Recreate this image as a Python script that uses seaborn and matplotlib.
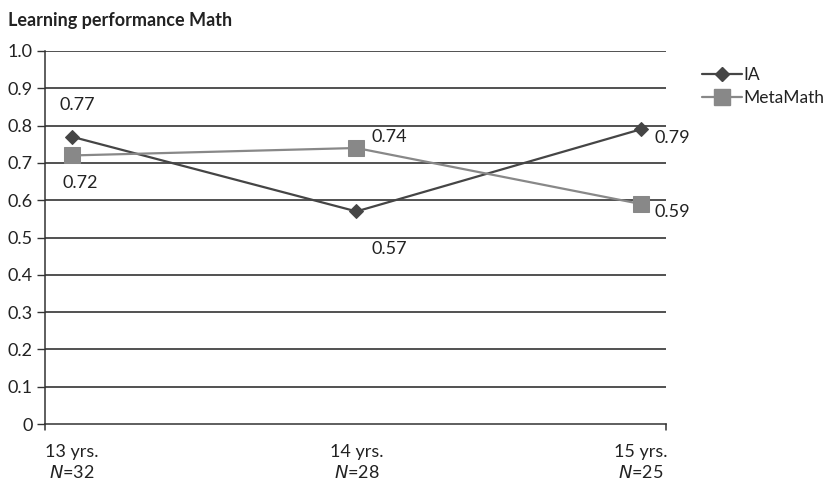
import matplotlib
matplotlib.use("Agg")
import matplotlib.pyplot as plt
import seaborn as sns
import pandas as pd
from matplotlib.lines import Line2D

ages = ["13 yrs.", "14 yrs.", "15 yrs."]
sample_sizes = [32, 28, 25]
ia_values = [0.77, 0.57, 0.79]
metamath_values = [0.72, 0.74, 0.59]
y_ticks = [0, 0.1, 0.2, 0.3, 0.4, 0.5, 0.6, 0.7, 0.8, 0.9, 1.0]
y_tick_labels = ["0", "0.1", "0.2", "0.3", "0.4", "0.5", "0.6", "0.7", "0.8", "0.9", "1.0"]

sns.set_theme(style="white")
plt.rcParams["font.family"] = ["Lato", "DejaVu Sans"]

df = pd.DataFrame({
    "pos": list(range(len(ages))) * 2,
    "value": ia_values + metamath_values,
    "series": ["IA"] * len(ages) + ["MetaMath"] * len(ages),
})

fig = plt.figure(figsize=(8.37, 4.88), dpi=100)
ax = fig.add_axes([0.054, 0.131, 0.742, 0.7645])

ia_color = "#454545"
mm_color = "#888888"
txt_color = "#222222"
fs = 13

sns.lineplot(data=df[df.series == "IA"], x="pos", y="value", ax=ax,
             color=ia_color, lw=1.6, marker="D", markersize=7,
             markeredgecolor=ia_color, legend=False)
sns.lineplot(data=df[df.series == "MetaMath"], x="pos", y="value", ax=ax,
             color=mm_color, lw=1.6, marker="s", markersize=12,
             markeredgecolor=mm_color, legend=False)

ax.set_xlabel("")
ax.set_ylabel("")
ax.set_xlim(-0.095, 2.09)
ax.set_ylim(0, 1.0)
ax.set_yticks(y_ticks)
ax.set_yticklabels(y_tick_labels, fontsize=fs, color=txt_color)
for y in y_ticks[1:]:
    ax.axhline(y, color="#222222", lw=1.1, zorder=0)

ax.set_xticks(range(len(ages)))
ax.set_xticklabels([""] * len(ages))
ax.tick_params(axis="x", length=0)
ax.tick_params(axis="y", length=6, width=1, color="#333333", direction="out", pad=3, left=True)

for sp in ["top", "right"]:
    ax.spines[sp].set_visible(False)
for sp in ["left", "bottom"]:
    ax.spines[sp].set_color("#333333")
    ax.spines[sp].set_linewidth(1.1)
# end ticks on the category axis
for xe in (-0.095, 2.09):
    ax.plot([xe, xe], [0, -0.015], color="#333333", lw=1.1, clip_on=False)

# category labels with italic N
for i, (age, n) in enumerate(zip(ages, sample_sizes)):
    ax.annotate(age, (i, 0), xytext=(0, -20), textcoords="offset points",
                ha="center", va="center", fontsize=fs, color=txt_color)
    ax.annotate(f"$\\it{{N}}$={n}", (i, 0), xytext=(0, -35), textcoords="offset points",
                ha="center", va="center", fontsize=fs, color=txt_color)

# value labels
ia_offsets = [(4, 23), (24, -27), (23, -6.5)]
mm_offsets = [(6, -20), (24, 8), (23, -6)]
for i, v in enumerate(ia_values):
    ax.annotate(f"{v:.2f}", (i, v), xytext=ia_offsets[i], textcoords="offset points",
                ha="center", va="center", fontsize=fs, color=txt_color)
for i, v in enumerate(metamath_values):
    ax.annotate(f"{v:.2f}", (i, v), xytext=mm_offsets[i], textcoords="offset points",
                ha="center", va="center", fontsize=fs, color=txt_color)

fig.text(0.01, 0.958, "Learning performance Math", fontsize=13, fontweight="bold",
         color=txt_color, ha="left", va="center")

handles = [
    Line2D([], [], color=ia_color, lw=1.6, marker="D", markersize=7),
    Line2D([], [], color=mm_color, lw=1.6, marker="s", markersize=12),
]
leg = fig.legend(handles, ["IA", "MetaMath"], loc="upper left",
                 bbox_to_anchor=(0.832, 0.874), frameon=False, fontsize=12.5,
                 handlelength=2.3, handletextpad=0.1, labelspacing=0.4,
                 borderaxespad=0, borderpad=0.3)
for t in leg.get_texts():
    t.set_color(txt_color)

fig.savefig("out.png", dpi=100)
